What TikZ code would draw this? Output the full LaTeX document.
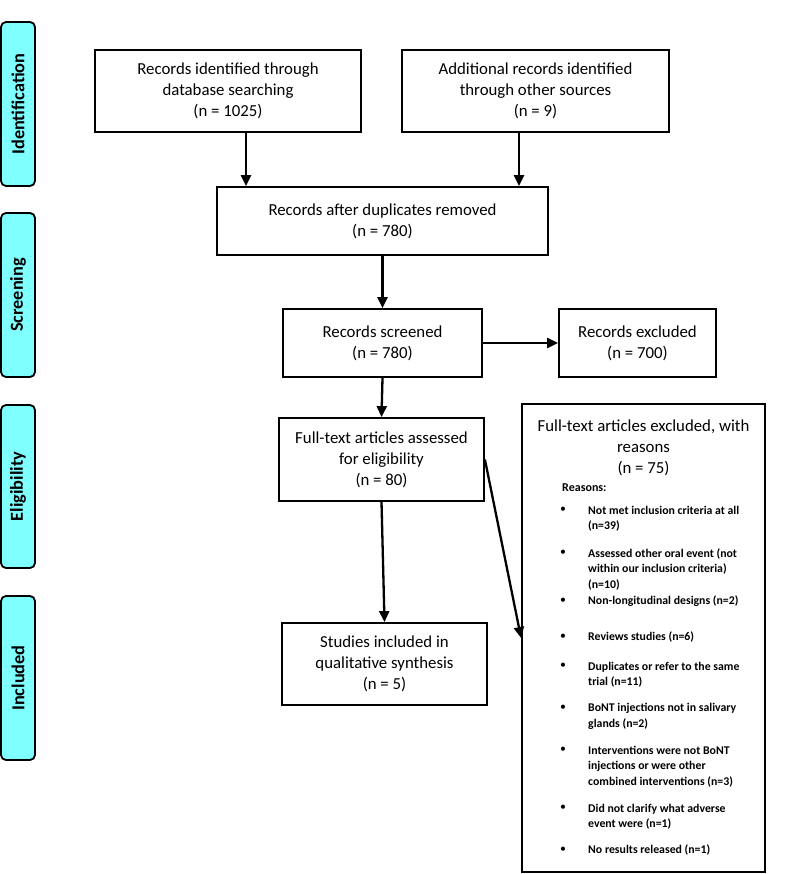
\documentclass[tikz,border=0pt]{standalone}
\usepackage{fontspec}
\setmainfont{Carlito}
\usetikzlibrary{arrows.meta}
\definecolor{phase}{HTML}{80FFFF}
\tikzset{
  box/.style={draw=black, line width=1.8pt, fill=white, align=center, inner sep=2pt,
              font=\fontsize{16.8}{21}\selectfont},
  phasebar/.style={draw=black, line width=1.8pt, fill=phase, rounded corners=5pt,
              minimum width=34pt, font=\bfseries\fontsize{18.3}{21}\selectfont},
  arr/.style={line width=2.3pt, -{Triangle[length=11pt,width=10pt]}},
  itemtxt/.style={anchor=west, align=left, inner sep=0pt,
              font=\bfseries\fontsize{11.8}{15.5}\selectfont},
  bul/.style={inner sep=0pt, font=\fontsize{11.8}{15.5}\selectfont}
}
\begin{document}
\begin{tikzpicture}[x=1pt,y=-1pt]
\useasboundingbox (0,0) rectangle (787,874);

% phase bars
\node[phasebar, minimum height=164pt] (pid) at (18,104) {\rotatebox{90}{Identification}};
\node[phasebar, minimum height=164pt] (psc) at (18,295) {\rotatebox{90}{Screening}};
\node[phasebar, minimum height=163pt] (pel) at (18,486.5) {\rotatebox{90}{Eligibility}};
\node[phasebar, minimum height=164pt] (pin) at (18,678) {\rotatebox{90}{Included}};

% boxes
\node[box, minimum width=266pt, minimum height=82pt] (b1) at (228,91)
  {Records identified through\\database searching\\(n = 1025)};
\node[box, minimum width=267pt, minimum height=82pt] (b2) at (535.5,91)
  {Additional records identified\\through other sources\\(n = 9)};
\node[box, minimum width=331pt, minimum height=68pt] (b3) at (382.5,221)
  {Records after duplicates removed\\(n = 780)};
\node[box, minimum width=199pt, minimum height=68pt] (b4) at (382.5,343)
  {Records screened\\(n = 780)};
\node[box, minimum width=157pt, minimum height=68pt] (bx) at (637.5,343)
  {Records excluded\\(n = 700)};
\node[box, minimum width=205pt, minimum height=83pt] (b5) at (381.5,459.5)
  {Full-text articles assessed\\for eligibility\\(n = 80)};
\node[box, minimum width=205pt, minimum height=82pt] (b6) at (384.5,664)
  {Studies included in\\qualitative synthesis\\(n = 5)};
\node[box, minimum width=243pt, minimum height=468pt] (b7) at (643.5,638) {};

% content of b7
\node[align=center, inner sep=0pt, font=\fontsize{16.8}{21}\selectfont] (b7t) at (643.5,448)
  {Full-text articles excluded, with\\reasons\\(n = 75)};
\node[anchor=west, inner sep=0pt, font=\bfseries\fontsize{12}{15}\selectfont] (rs) at (562,488) {Reasons:};

\node[bul] (u1) at (563,510) {•};
\node[itemtxt] (i1) at (588,518.5) {Not met inclusion criteria at all\\(n=39)};
\node[bul] (u2) at (563,553) {•};
\node[itemtxt] (i2) at (588,569.5) {Assessed other oral event (not\\within our inclusion criteria)\\(n=10)};
\node[bul] (u3) at (563,601) {•};
\node[itemtxt] (i3) at (588,601) {Non-longitudinal designs (n=2)};
\node[bul] (u4) at (563,637) {•};
\node[itemtxt] (i4) at (588,637) {Reviews studies (n=6)};
\node[bul] (u5) at (563,666) {•};
\node[itemtxt] (i5) at (588,674.5) {Duplicates or refer to the same\\trial (n=11)};
\node[bul] (u6) at (563,708) {•};
\node[itemtxt] (i6) at (588,716.5) {BoNT injections not in salivary\\glands (n=2)};
\node[bul] (u7) at (563,750) {•};
\node[itemtxt] (i7) at (588,766.5) {Interventions were not BoNT\\injections or were other\\combined interventions (n=3)};
\node[bul] (u8) at (563,808) {•};
\node[itemtxt] (i8) at (588,816.5) {Did not clarify what adverse\\event were (n=1)};
\node[bul] (u9) at (563,850) {•};
\node[itemtxt] (i9) at (588,850) {No results released (n=1)};

% connectors
\draw[arr] ([xshift=18pt]b1.south) -- ([xshift=18pt]b1.south |- b3.north);
\draw[arr] ([xshift=-16.5pt]b2.south) -- ([xshift=-16.5pt]b2.south |- b3.north);
\draw[arr] (b3.south) -- (b4.north);
\draw[arr] (b4.east) -- (bx.west);
\draw[arr] (b4.south) -- (b5.north);
\draw[arr] (b5.south) -- (b6.north);
\draw[arr] (b5.east) -- (b7.west);
\end{tikzpicture}
\end{document}
